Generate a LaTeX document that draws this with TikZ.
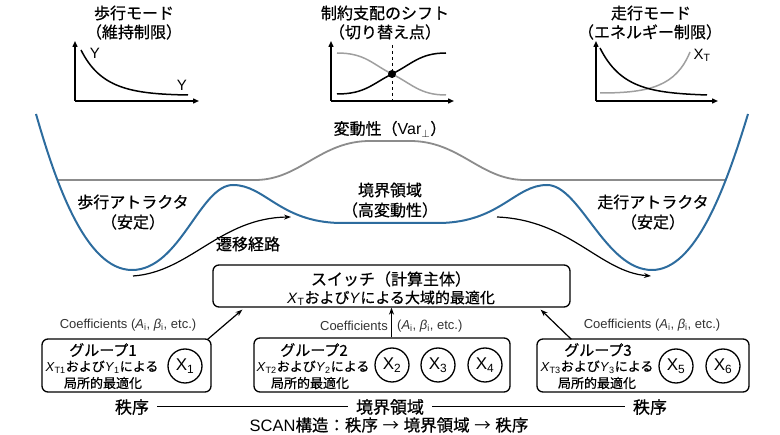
\documentclass[tikz,border=0pt]{standalone}
\usepackage{fontspec}
\setmainfont{Liberation Sans}
\newfontfamily\jp[FakeBold=0.6]{Noto Sans CJK JP}
\newfontfamily\jparrow{Noto Sans CJK JP}
\usetikzlibrary{arrows.meta,calc}
\newcommand\J[1]{{\jp #1}}
\newcommand\fs[1]{\fontsize{#1}{#1}\selectfont}
\definecolor{landblue}{RGB}{45,108,158}
\definecolor{vargray}{RGB}{140,140,140}
\definecolor{coefgray}{RGB}{50,50,50}
\begin{document}
\begin{tikzpicture}[x=1pt,y=-1pt,
  title/.style={inner sep=0pt,font=\fs{16}\jp},
  lab/.style={inner sep=0pt,font=\fs{16}\jp},
  ax/.style={line width=1.4pt,-{Triangle[length=6pt,width=5pt]}},
  mini/.style={line width=1.5pt},
  minigray/.style={line width=1.5pt,color=gray!75},
  box/.style={draw,line width=1.3pt,rounded corners=6pt,inner sep=0pt},
  circ/.style={draw,circle,line width=1.3pt,minimum size=34pt,inner sep=0pt,font=\fs{17}},
  coef/.style={inner sep=0pt,font=\fs{13},text=coefgray},
  conn/.style={line width=1.2pt,-{Stealth[length=7pt,width=5pt]}},
  gtxt/.style={inner sep=0pt,font=\fs{13}},
  btxt/.style={inner sep=0pt,font=\fs{17}\jp}
]
\useasboundingbox (0,0) rectangle (780,435);

% ---------- mini graph 1 ----------
\node[title] (t1a) at (134,13) {歩行モード};
\node[title] (t1b) at (134,32) {（維持制限）};
\coordinate (o1) at (75,101);
\draw[ax] (o1) -- (75,41);
\draw[ax] (o1) -- (199,101);
\draw[mini] (81,50) .. controls (100,88) and (130,94) .. (188,95);
\node[inner sep=0pt,font=\fs{15}] (y1a) at (95,53) {Y};
\node[inner sep=0pt,font=\fs{15}] (y1b) at (182,85) {Y};

% ---------- mini graph 2 ----------
\node[title] (t2a) at (385,13) {制約支配のシフト};
\node[title] (t2b) at (385,32) {（切り替え点）};
\coordinate (o2) at (331,101);
\draw[ax] (o2) -- (331,41);
\draw[ax] (o2) -- (454,101);
\draw[line width=1pt,dashed] (392,45) -- (392,101);
\draw[minigray] (337,53) .. controls (365,53) and (372,64) .. (392,74) .. controls (412,84) and (420,95) .. (446,95);
\draw[mini] (337,94) .. controls (365,94) and (372,84) .. (392,74) .. controls (412,64) and (420,53) .. (446,53);
\fill (392,74) circle (4pt);

% ---------- mini graph 3 ----------
\node[title] (t3a) at (651,13) {走行モード};
\node[title] (t3b) at (650,32) {（エネルギー制限）};
\coordinate (o3) at (596,101);
\draw[ax] (o3) -- (596,41);
\draw[ax] (o3) -- (718,101);
\draw[minigray] (600,93) .. controls (650,93) and (676,86) .. (690,52);
\draw[mini] (600,48) .. controls (620,88) and (650,93) .. (707,95);
\node[inner sep=0pt,font=\fs{15}] (xt) at (702,55) {X\textsubscript{T}};

% ---------- landscape ----------
\draw[line width=1.8pt,color=vargray] (58,180) -- (255,180) .. controls (300,180) and (320,141) .. (370,141) -- (410,141) .. controls (460,141) and (480,180) .. (525,180) -- (726,180);
\draw[line width=2pt,color=landblue] (36,114) .. controls (55,180) and (85,270) .. (132,270)
  .. controls (180,270) and (200,185) .. (233,185)
  .. controls (265,185) and (280,222) .. (340,223) -- (440,223)
  .. controls (500,222) and (515,185) .. (547,185)
  .. controls (580,185) and (605,270) .. (652,270)
  .. controls (695,270) and (725,190) .. (748,114);
\draw[line width=1.2pt,-{Stealth[length=7pt,width=5pt]}] (133,276) .. controls (190,272) and (220,218) .. (291,217);
\draw[line width=1.2pt,-{Stealth[length=7pt,width=5pt]}] (497,217) .. controls (570,220) and (600,272) .. (651,276);

\node[lab] (var) at (390,129) {変動性（{\rmfamily Var}\textsubscript{$\perp$}）};
\node[lab] (wa1) at (133,202) {歩行アトラクタ};
\node[lab] (wa2) at (133,222) {（安定）};
\node[lab] (bd1) at (390,190) {境界領域};
\node[lab] (bd2) at (390,210) {（高変動性）};
\node[lab] (ra1) at (653,202) {走行アトラクタ};
\node[lab] (ra2) at (653,222) {（安定）};
\node[lab] (path) at (248,244) {遷移経路};

% ---------- switch ----------
\node[box,minimum width=357pt,minimum height=42pt] (sw) at (391.5,286) {};
\node[inner sep=0pt,font=\fs{16}\jp] (sw1) at (391,279) {スイッチ（計算主体）};
\node[inner sep=0pt,font=\fs{15}] (sw2) at (391,298) {\textit{X}\textsubscript{T}\J{および}\textit{Y}\J{による大域的最適化}};

% ---------- groups ----------
\node[box,minimum width=169pt,minimum height=53pt] (g1) at (126.5,365.5) {};
\node[box,minimum width=256pt,minimum height=54pt] (g2) at (382,365) {};
\node[box,minimum width=212pt,minimum height=53pt] (g3) at (643,365.5) {};

\node[inner sep=0pt,font=\fs{15}\jp] (g1a) at (103,350) {グループ1};
\node[gtxt] (g1b) at (102,367) {\textit{X}\textsubscript{T1}\J{および}\textit{Y}\textsubscript{1}\J{による}};
\node[gtxt,font=\fs{13}\jp] (g1c) at (103,383) {局所的最適化};
\node[circ] (x1) at (185,366) {X\textsubscript{1}};

\node[inner sep=0pt,font=\fs{15}\jp] (g2a) at (314,350) {グループ2};
\node[gtxt] (g2b) at (313,367) {\textit{X}\textsubscript{T2}\J{および}\textit{Y}\textsubscript{2}\J{による}};
\node[gtxt,font=\fs{13}\jp] (g2c) at (310,383) {局所的最適化};
\node[circ] (x2) at (392,365) {X\textsubscript{2}};
\node[circ] (x3) at (438,365) {X\textsubscript{3}};
\node[circ] (x4) at (485,365) {X\textsubscript{4}};

\node[inner sep=0pt,font=\fs{15}\jp] (g3a) at (598,350) {グループ3};
\node[gtxt] (g3b) at (597,367) {\textit{X}\textsubscript{T3}\J{および}\textit{Y}\textsubscript{3}\J{による}};
\node[gtxt,font=\fs{13}\jp] (g3c) at (597,383) {局所的最適化};
\node[circ] (x5) at (676,366) {X\textsubscript{5}};
\node[circ] (x6) at (723,366) {X\textsubscript{6}};

% ---------- coefficient arrows ----------
\draw[conn] ($(g1.north east)+(-4,1)$) -- ($(sw.south west)+(30,2)$);
\draw[conn] (sw.south |- g2.north) -- (sw.south);
\draw[conn] ($(g3.north west)+(35,1)$) -- ($(sw.south east)+(-30,2)$);
\node[coef] (c1) at (128,325) {Coefficients (\textit{A}\textsubscript{i}, \textit{β}\textsubscript{i}, etc.)};
\node[coef,anchor=east] (c2a) at (388,326) {Coefficients};
\node[coef,anchor=west] (c2b) at (397,326) {(\textit{A}\textsubscript{i}, \textit{β}\textsubscript{i}, etc.)};
\node[coef] (c3) at (652,325) {Coefficients (\textit{A}\textsubscript{i}, \textit{β}\textsubscript{i}, etc.)};

% ---------- bottom ----------
\node[btxt] (o_l) at (132,407) {秩序};
\node[btxt] (b_m) at (390,407) {境界領域};
\node[btxt] (o_r) at (650,407) {秩序};
\draw[line width=1pt] ($(o_l.east)+(8,0)$) -- ($(b_m.west)+(-8,0)$);
\draw[line width=1pt] ($(b_m.east)+(8,0)$) -- ($(o_r.west)+(-8,0)$);
\node[inner sep=0pt,font=\fs{16.5}] (scan) at (389,425) {SCAN\J{構造：秩序} {\jparrow →} \J{境界領域} {\jparrow →} \J{秩序}};
\end{tikzpicture}
\end{document}
